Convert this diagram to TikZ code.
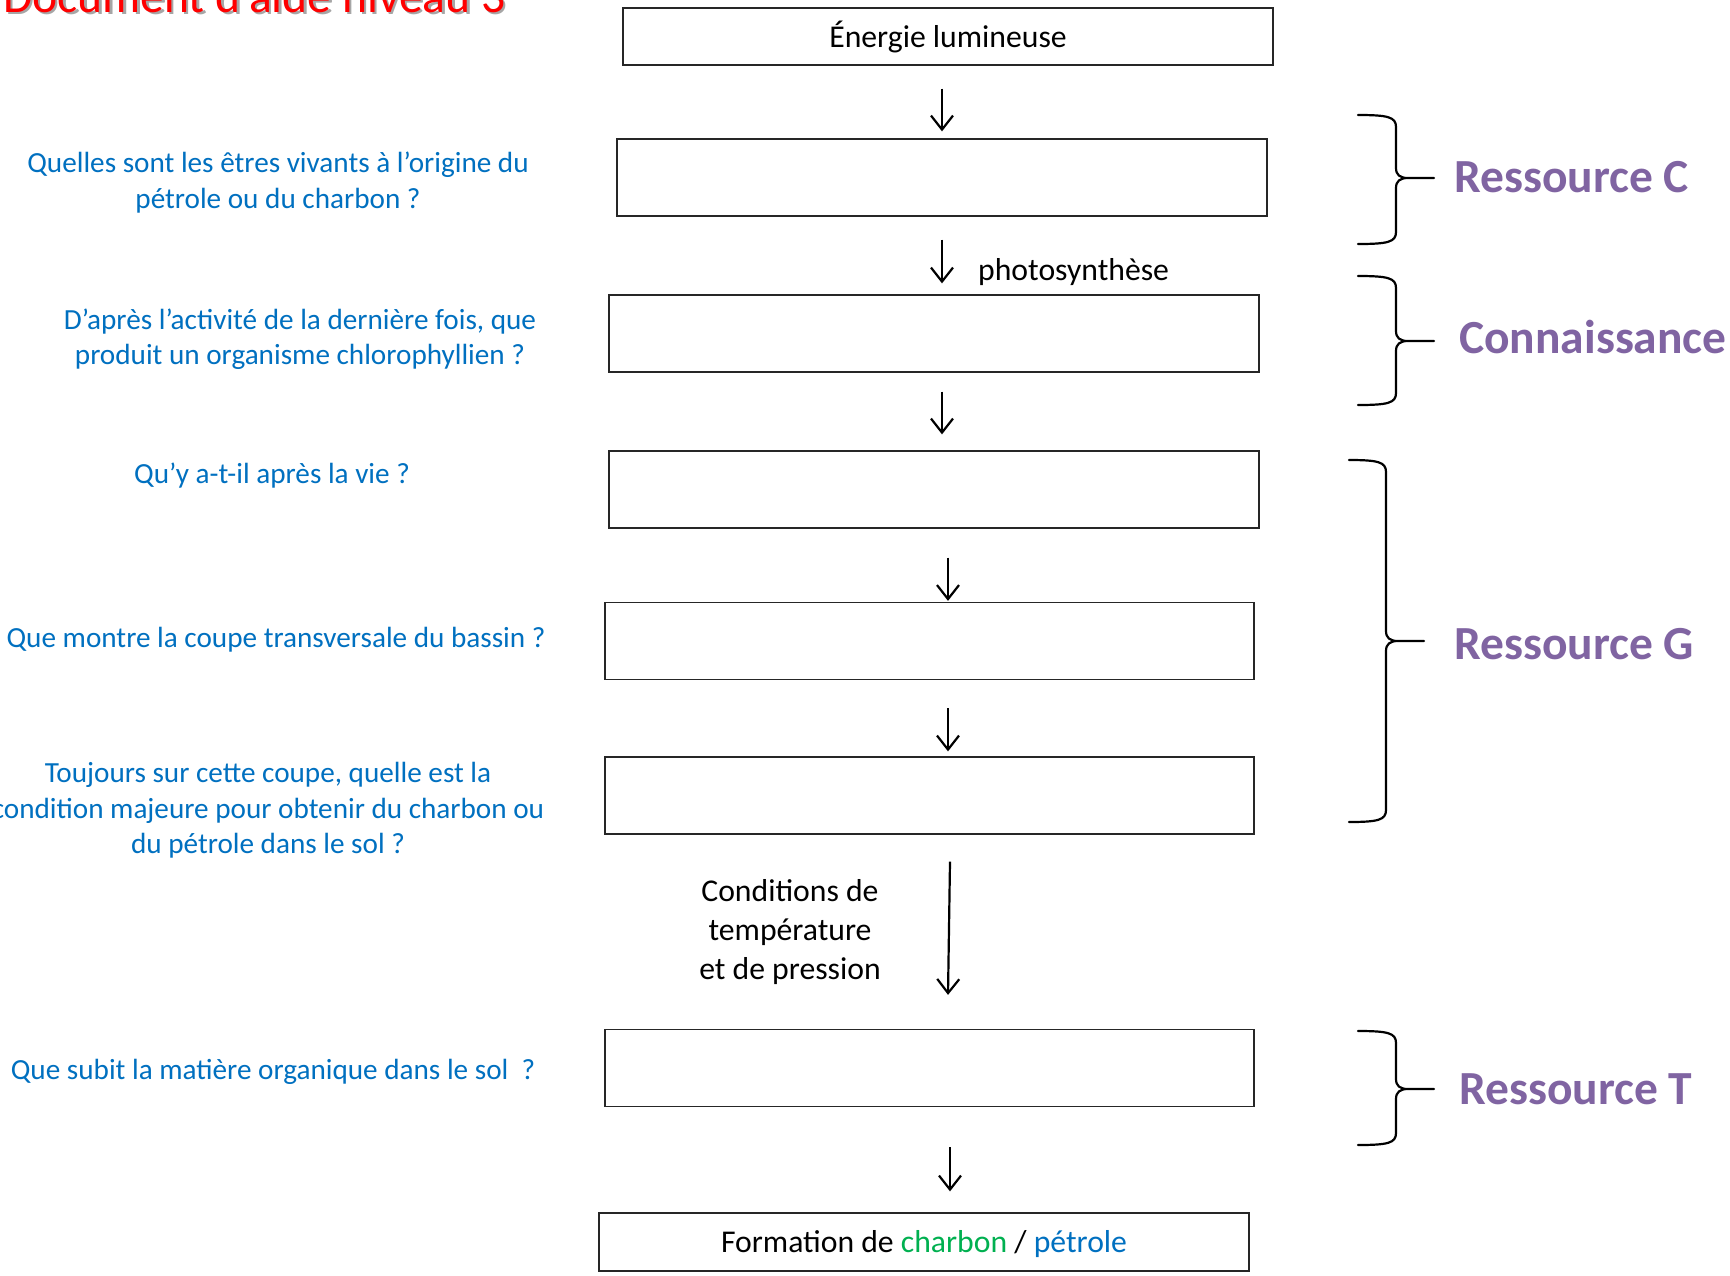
\documentclass[tikz,border=0pt]{standalone}
\usepackage{fontspec}
\setmainfont{Carlito}
\usetikzlibrary{arrows.meta}

\definecolor{qblue}{HTML}{0070C0}
\definecolor{respurple}{HTML}{8064A2}
\definecolor{cgreen}{HTML}{00B050}
\definecolor{titlered}{HTML}{FF0000}

\tikzset{
  stepbox/.style={draw=black!85, line width=1.3pt, minimum width=650pt, minimum height=77pt,
    inner sep=0pt, font=\fontsize{31.7}{38.6}\selectfont},
  flow/.style={line width=2.2pt, -{Straight Barb[length=14pt,width=22pt]}},
  question/.style={text=qblue, align=center, inner sep=0pt, font=\fontsize{29.2}{35.3}\selectfont},
  note/.style={inner sep=0pt, align=center, font=\fontsize{31.7}{38.6}\selectfont},
  source/.style={text=respurple, inner sep=0pt, anchor=west, font=\fontsize{47.5}{57}\selectfont\bfseries},
  heading/.style={inner sep=0pt, anchor=base west, font=\fontsize{47.6}{57}\selectfont},
  brace/.style={line width=2.2pt, line cap=round}
}

% right curly brace: left x, spine x, tip x, top y, middle y, bottom y
\newcommand\accolade[6]{%
  \draw[brace] (#1,#4) .. controls (#2-8,#4) and (#2,#4+2) .. (#2,#4+12)
    -- (#2,#5-10) .. controls (#2,#5-3) and (#2+4,#5) .. (#2+12,#5) -- (#3,#5)
    (#2+12,#5) .. controls (#2+4,#5) and (#2,#5+3) .. (#2,#5+10)
    -- (#2,#6-12) .. controls (#2,#6-2) and (#2-8,#6) .. (#1,#6);
}

\begin{document}
\begin{tikzpicture}[x=1pt,y=-1pt]
  \fill[white] (0,0) rectangle (1730,1275);
  \useasboundingbox (0,0) rectangle (1730,1275);

  % title with its shadow
  \node[heading, text=black!35] at (5.5,14.5) {Document d’aide niveau 3};
  \node[heading, text=titlered] (title) at (3,12) {Document d’aide niveau 3};

  % chain of boxes
  \node[stepbox, minimum height=57pt] (b1) at (948,36.5) {Énergie lumineuse};
  \node[stepbox] (b2) at (942,177.5) {};
  \node[stepbox] (b3) at (934,333.5) {};
  \node[stepbox] (b4) at (934,489.5) {};
  \node[stepbox, minimum width=649pt] (b5) at (929.5,641) {};
  \node[stepbox, minimum width=649pt] (b6) at (929.5,795.5) {};
  \node[stepbox, minimum width=649pt] (b7) at (929.5,1068) {};
  \node[stepbox, minimum height=58pt, text depth=0.08em] (b8) at (924,1242)
    {Formation de \textcolor{cgreen}{charbon} / \textcolor{qblue}{pétrole}};

  % arrows between the boxes
  \draw[flow] ([xshift=-6pt,yshift=-23pt]b1.south) -- ([yshift=7pt]b2.north);
  \draw[flow] ([yshift=-23pt]b2.south) -- ([xshift=8pt,yshift=11pt]b3.north);
  \draw[flow] ([xshift=8pt,yshift=-19pt]b3.south) -- ([xshift=8pt,yshift=16pt]b4.north);
  \draw[flow] ([xshift=14pt,yshift=-29pt]b4.south) -- ([xshift=18.5pt,yshift=1pt]b5.north);
  \draw[flow] ([xshift=18.5pt,yshift=-28pt]b5.south) -- ([xshift=18.5pt,yshift=5pt]b6.north);
  \draw[flow] ([xshift=20.5pt,yshift=-27pt]b6.south) -- ([xshift=18.5pt,yshift=34pt]b7.north);
  \draw[flow] ([xshift=20.5pt,yshift=-40pt]b7.south) -- ([xshift=26pt,yshift=21pt]b8.north);

  % arrow labels
  \node[note, anchor=west] (photo) at (978,272) {photosynthèse};
  \node[note] (cond) at (790,932) {Conditions de\\température\\et de pression};

  % guiding questions
  \node[question] (q1) at (278,182.5) {Quelles sont les êtres vivants à l’origine du\\pétrole ou du charbon ?};
  \node[question] (q2) at (300,339.5) {D’après l’activité de la dernière fois, que\\produit un organisme chlorophyllien ?};
  \node[question] (q3) at (272,476) {Qu’y a-t-il après la vie ?};
  \node[question] (q4) at (276,640) {Que montre la coupe transversale du bassin ?};
  \node[question] (q5) at (268,810.5) {Toujours sur cette coupe, quelle est la\\condition majeure pour obtenir du charbon ou\\du pétrole dans le sol ?};
  \node[question] (q6) at (273,1072) {Que subit la matière organique dans le sol\ \ ?};

  % braces and resources
  \accolade{1358}{1396}{1434}{115}{178}{244}
  \accolade{1358}{1396}{1434}{276}{341}{405}
  \accolade{1349}{1386}{1424}{460}{641}{822}
  \accolade{1358}{1396}{1434}{1031}{1089}{1145}
  \node[source] (rc) at (1454,177) {Ressource C};
  \node[source] (kn) at (1459,337) {Connaissance};
  \node[source] (rg) at (1454,644) {Ressource G};
  \node[source] (rt) at (1459,1089) {Ressource T};
\end{tikzpicture}
\end{document}
